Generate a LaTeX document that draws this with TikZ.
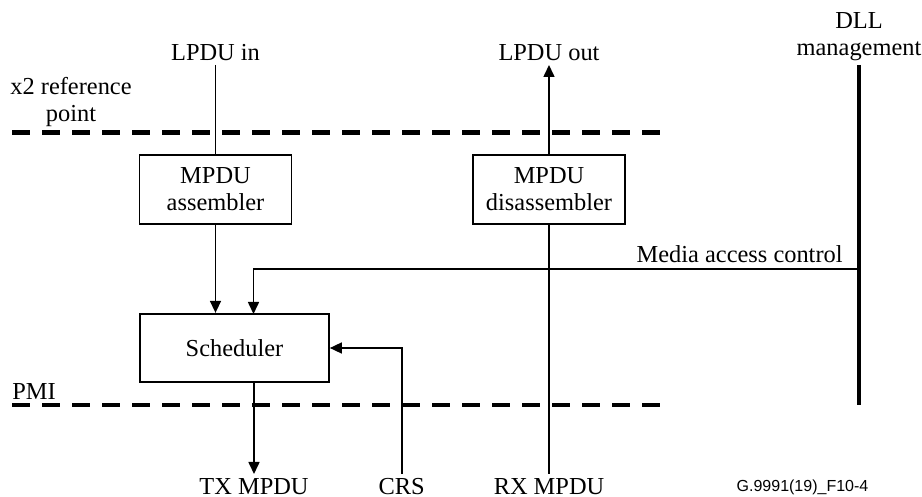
\documentclass[tikz,border=0pt]{standalone}
\usepackage{fontspec}
\setmainfont{Liberation Serif}
\newfontfamily\figsans{Liberation Sans}
\usetikzlibrary{arrows.meta}
\begin{document}
\begin{tikzpicture}[x=0.5pt,y=-0.5pt,
  every node/.style={font=\fontsize{12.2}{13.4}\selectfont},
  box/.style={draw, line width=0.85pt, inner sep=0pt, align=center},
  lbl/.style={inner sep=2pt, align=center},
  thin/.style={line width=0.8pt},
  arr/.style={thin, -{Triangle[length=6pt,width=5.5pt]}},
  dashline/.style={line width=2.2pt, dash pattern=on 9.2pt off 5.8pt},
  bar/.style={line width=2.2pt}]
\useasboundingbox (0,0) rectangle (922,497);

% boxes
\node[box, minimum width=76pt, minimum height=34.5pt] (asm) at (215.5,189.5) {MPDU\\assembler};
\node[box, minimum width=76pt, minimum height=34.5pt] (dis) at (549,189.5) {MPDU\\disassembler};
\node[box, minimum width=94.5pt, minimum height=34.3pt] (sch) at (234.5,348) {Scheduler};

% labels
\node[lbl, anchor=south] (lin) at (215.5,65) {LPDU in};
\node[lbl, anchor=south] (lout) at (549,65) {LPDU out};
\node[lbl, anchor=south] (dll) at (859,65) {DLL\\management};
\node[inner sep=0pt, anchor=south, align=center] (x2) at (71,127) {x2 reference\\point};
\node[inner sep=0pt, anchor=base west] (pmi) at (12,400) {PMI};
\node[inner sep=0pt, anchor=base east] (macl) at (843,263) {Media access control};
\node[lbl, anchor=north] (tx) at (254,474) {TX MPDU};
\node[lbl, anchor=north] (crs) at (401.7,474) {CRS};
\node[lbl, anchor=north] (rx) at (549,474) {RX MPDU};
\node[inner sep=0pt, anchor=base, font=\figsans\fontsize{8}{9.6}\selectfont] (fig) at (802.5,492) {G.9991(19)\_F10-4};

% reference lines
\draw[dashline] (12,132.7) -- (665,132.7);
\draw[dashline] (12,405) -- (665,405);

% DLL management bar
\coordinate (dllbot) at (859,405);
\coordinate (mac) at (859,269.3);
\coordinate (macin) at (253.5,314);
\draw[bar] (dll.south) -- (dllbot);

% connectors
\draw[thin] (lin.south) -- (asm.north);
\draw[arr] (dis.north) -- (lout.south);
\draw[arr] (asm.south) -- (asm.south |- sch.north);
\draw[arr] (mac) -| (macin);
\draw[arr] (crs.north) |- (sch.east);
\draw[arr] (sch.south -| tx.north) -- (tx.north);
\draw[thin] (rx.north) -- (dis.south);
\end{tikzpicture}
\end{document}
